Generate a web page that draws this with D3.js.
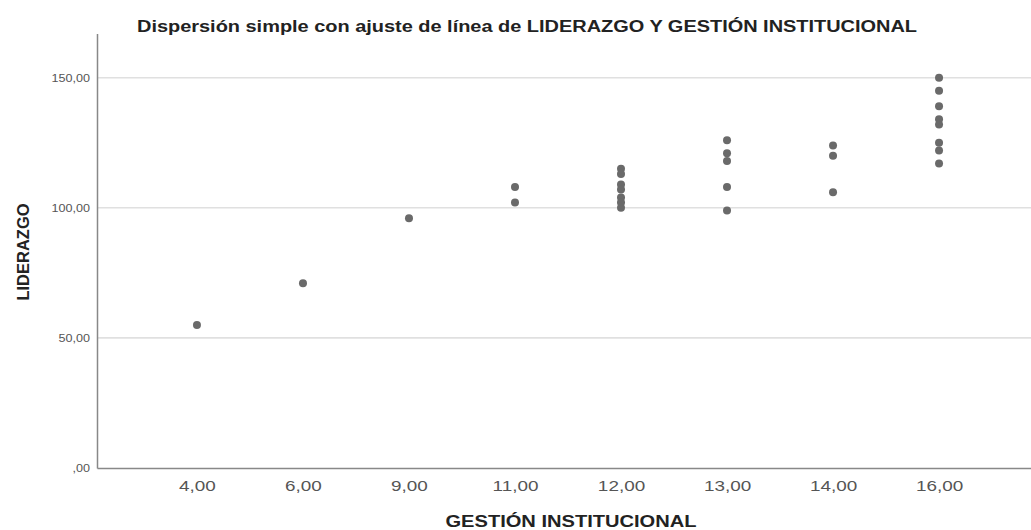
<!DOCTYPE html>
<html><head><meta charset="utf-8">
<script src="https://cdn.jsdelivr.net/npm/d3@7"></script>
<style>body{margin:0;background:#fff;}svg{display:block;font-family:"Liberation Sans",Arial,sans-serif;}</style>
</head><body><svg id="c" width="1031" height="530"></svg>
<script>
const categories = ["4,00","6,00","9,00","11,00","12,00","13,00","14,00","16,00"];
const points = [
  ["4,00",55],
  ["6,00",71],
  ["9,00",96],
  ["11,00",108],["11,00",102],
  ["12,00",115],["12,00",113],["12,00",109],["12,00",107],["12,00",104],["12,00",102],["12,00",100],
  ["13,00",126],["13,00",121],["13,00",118],["13,00",108],["13,00",99],
  ["14,00",124],["14,00",120],["14,00",106],
  ["16,00",150],["16,00",145],["16,00",139],["16,00",134],["16,00",132],["16,00",125],["16,00",122],["16,00",117]
];
const yTicks = [0,50,100,150];
const yTickLabels = [",00","50,00","100,00","150,00"];
const title = "Dispersión simple con ajuste de línea de LIDERAZGO Y GESTIÓN INSTITUCIONAL";
const xTitle = "GESTIÓN INSTITUCIONAL";
const yTitle = "LIDERAZGO";

const svg = d3.select("#c");
const L = 97, R = 1039, T = 33.5, B = 468;
const x = d3.scalePoint().domain(categories).range([L, R]).padding(0.943);
const y = d3.scaleLinear().domain([0, 167]).range([B, T]);

// gridlines
svg.append("g").selectAll("line").data(yTicks.filter(d=>d>0)).join("line")
  .attr("x1", L).attr("x2", R).attr("y1", d=>y(d)).attr("y2", d=>y(d))
  .attr("stroke", "#e0e0e0").attr("stroke-width", 1.6);

// axes
const xa = svg.append("g").attr("transform", `translate(0,${B})`)
  .call(d3.axisBottom(x).tickSize(0).tickPadding(13));
xa.select(".domain").attr("stroke", "#888").attr("stroke-width", 1.5);
xa.selectAll("text").attr("font-size", 14).attr("fill", "#555").attr("transform", "scale(1.35,1)");

const ysx = 1.2;
const ya = svg.append("g").attr("transform", `translate(${L},0)`)
  .call(d3.axisLeft(y).tickValues(yTicks).tickFormat((d,i)=>yTickLabels[i]).tickSize(0).tickPadding(7));
ya.select(".domain").attr("stroke", "#888").attr("stroke-width", 1.5);
ya.selectAll("text").attr("font-size", 10.5).attr("fill", "#555")
  .attr("x", -7/ysx).attr("transform", `scale(${ysx},1)`);

// points
svg.append("g").selectAll("circle").data(points).join("circle")
  .attr("cx", d=>x(d[0])).attr("cy", d=>y(d[1])).attr("r", 4)
  .attr("fill", "#6a6a6a");

// titles
svg.append("text").attr("x", 527).attr("y", 32).attr("text-anchor","middle")
  .attr("font-size", 16).attr("font-weight","bold").attr("fill","#222")
  .attr("textLength", 780).attr("lengthAdjust","spacingAndGlyphs").text(title);
svg.append("text").attr("x", 571).attr("y", 527).attr("text-anchor","middle")
  .attr("font-size", 16).attr("font-weight","bold").attr("fill","#222")
  .attr("textLength", 251).attr("lengthAdjust","spacingAndGlyphs").text(xTitle);
svg.append("text").attr("transform", `translate(29,252) rotate(-90)`).attr("text-anchor","middle")
  .attr("font-size", 16.5).attr("font-weight","bold").attr("fill","#222").text(yTitle);
</script></body></html>
